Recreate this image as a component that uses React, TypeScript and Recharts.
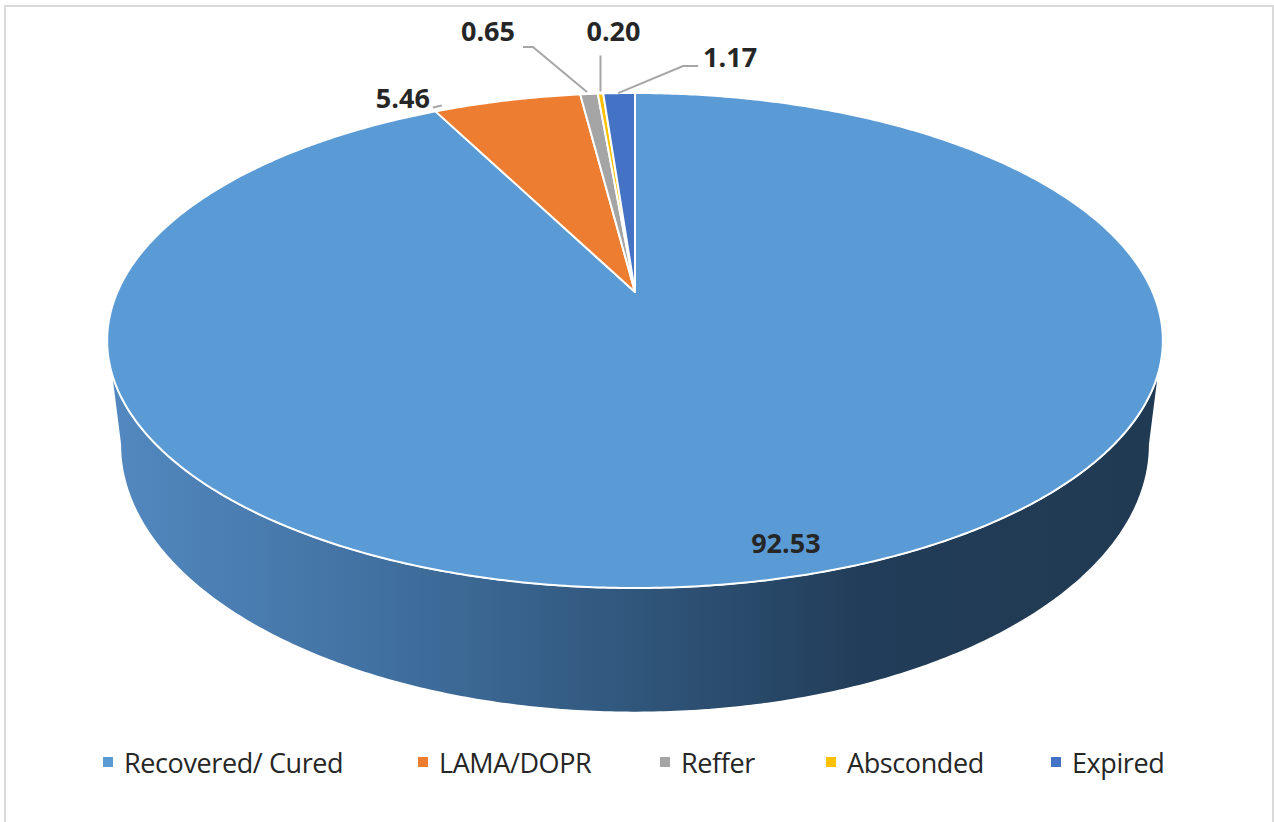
import React from 'react';
import { PieChart, Pie, Cell, Legend } from 'recharts';

const names = ['Recovered/ Cured', 'LAMA/DOPR', 'Reffer', 'Absconded', 'Expired'];
const values = [92.53, 5.46, 0.65, 0.2, 1.17];
const valueLabels = ['92.53', '5.46', '0.65', '0.20', '1.17'];
const colors = ['#5B9BD5', '#ED7D31', '#A5A5A5', '#FFC000', '#4472C4'];

const data = names.map((name, i) => ({ name, value: values[i] }));

// perspective of the tilted disc (styling only)
const RX = 517.6;
const RY = 238;
const PERSP = 0.196;
const DEPTH = 100;
const SHRINK = 0.975;

const rim = (cx: number, cy: number, deg: number) => {
  const t = (deg * Math.PI) / 180;
  const u = Math.cos(t);
  const v = Math.sin(t);
  const w = 1 + PERSP * v;
  return { x: cx + (RX * u) / w, y: cy - (RY * v) / w, w };
};

const base = (cx: number, cy: number, deg: number) => {
  const p = rim(cx, cy, deg);
  return { x: cx + (p.x - cx) * SHRINK, y: p.y + DEPTH / p.w };
};

const pt = (p: { x: number; y: number }) => `${p.x.toFixed(2)},${p.y.toFixed(2)}`;

function Slice3D(props: any) {
  const { cx, cy, startAngle, endAngle, fill, index } = props;
  const n = Math.max(2, Math.ceil(Math.abs(endAngle - startAngle) / 0.5));
  const angles: number[] = [];
  for (let i = 0; i <= n; i++) angles.push(startAngle + ((endAngle - startAngle) * i) / n);

  const topD = `M${cx},${cy} L` + angles.map((a) => pt(rim(cx, cy, a))).join(' L') + ' Z';

  // front-facing runs of the rim get a side wall
  const runs: number[][] = [];
  let cur: number[] = [];
  angles.forEach((a) => {
    if (Math.sin((a * Math.PI) / 180) <= -PERSP + 0.001) cur.push(a);
    else {
      if (cur.length > 1) runs.push(cur);
      cur = [];
    }
  });
  if (cur.length > 1) runs.push(cur);

  const sideD = runs
    .map((run) => {
      const t = run.map((a) => rim(cx, cy, a));
      const b = run
        .slice()
        .reverse()
        .map((a) => base(cx, cy, a));
      return 'M' + [...t, ...b].map(pt).join(' L') + ' Z';
    })
    .join(' ');

  const gid = `side-grad-${index}`;
  return (
    <g>
      <defs>
        <linearGradient id={gid} gradientUnits="userSpaceOnUse" x1={cx - RX} y1={0} x2={cx + RX} y2={0}>
          <stop offset="0%" stopColor="#5288bf" />
          <stop offset="25%" stopColor="#4171a1" />
          <stop offset="50%" stopColor="#30567b" />
          <stop offset="72%" stopColor="#223d59" />
          <stop offset="100%" stopColor="#213a53" />
        </linearGradient>
      </defs>
      {sideD && <path d={sideD} fill={index === 0 ? `url(#${gid})` : fill} stroke="#ffffff" strokeWidth={1.5} />}
      <path d={topD} fill={fill} stroke="#ffffff" strokeWidth={2} strokeLinejoin="round" />
    </g>
  );
}

// label placement relative to the rim point at each slice's mid angle
const labelOffsets = [
  { dx: 2, dy: -35, line: [] as number[][] },
  { dx: -104, dy: -3, line: [[-74, 7], [-65, 5]] },
  { dx: -101, dy: -63, line: [[-66, -47], [-56, -47], [-2, -2]] },
  { dx: 13, dy: -63, line: [[0, -38], [0, -2]] },
  { dx: 111, dy: -37, line: [[79, -27], [64, -27], [-1, 0]] },
];

function renderLabel(props: any) {
  const { cx, cy, midAngle, index } = props;
  const r = rim(cx, cy, midAngle);
  const o = labelOffsets[index];
  return (
    <g key={`lbl-${index}`}>
      {o.line.length > 0 && (
        <polyline
          points={o.line.map(([x, y]) => `${r.x + x},${r.y + y}`).join(' ')}
          fill="none"
          stroke="#a6a6a6"
          strokeWidth={2}
        />
      )}
      <text
        x={r.x + o.dx}
        y={r.y + o.dy}
        textAnchor="middle"
        dominantBaseline="central"
        fontFamily="'Open Sans', sans-serif"
        fontWeight={700}
        fontSize={27}
        fill="#262626"
      >
        {valueLabels[index]}
      </text>
    </g>
  );
}

const legendLeft = [103, 418, 660, 826, 1051];

function renderLegend() {
  return (
    <div
      style={{
        position: 'relative',
        height: 38,
        fontFamily: "'Open Sans', sans-serif",
        fontSize: 27,
        letterSpacing: -0.4,
        color: '#262626',
      }}
    >
      {names.map((n, i) => (
        <div
          key={n}
          style={{
            position: 'absolute',
            left: legendLeft[i],
            top: 0,
            height: 38,
            display: 'flex',
            alignItems: 'center',
            whiteSpace: 'nowrap',
          }}
        >
          <span style={{ width: 10, height: 10, background: colors[i], marginRight: 11, display: 'inline-block' }} />
          <span>{n}</span>
        </div>
      ))}
    </div>
  );
}

export default function App() {
  return (
    <div
      style={{
        position: 'absolute',
        left: 0,
        top: 0,
        width: 1274,
        height: 822,
        overflow: 'hidden',
        background: '#ffffff',
      }}
    >
      <div
        style={{
          position: 'absolute',
          left: 4,
          top: 5,
          width: 1266,
          height: 840,
          border: '2px solid #dadada',
        }}
      />
      <div style={{ position: 'absolute', left: 0, top: 0 }}>
        <PieChart width={1274} height={822} margin={{ top: 0, right: 0, bottom: 0, left: 0 }}>
          <Pie
            data={data}
            dataKey="value"
            nameKey="name"
            cx={635}
            cy={292}
            outerRadius={300}
            startAngle={90}
            endAngle={-270}
            stroke="none"
            shape={Slice3D}
            activeShape={Slice3D}
            inactiveShape={Slice3D}
            label={renderLabel}
            labelLine={false}
            isAnimationActive={false}
          >
            {data.map((d, i) => (
              <Cell key={d.name} fill={colors[i]} />
            ))}
          </Pie>
          <Legend
            content={renderLegend}
            wrapperStyle={{ position: 'absolute', left: 0, top: 743, width: 1274 }}
          />
        </PieChart>
      </div>
    </div>
  );
}
